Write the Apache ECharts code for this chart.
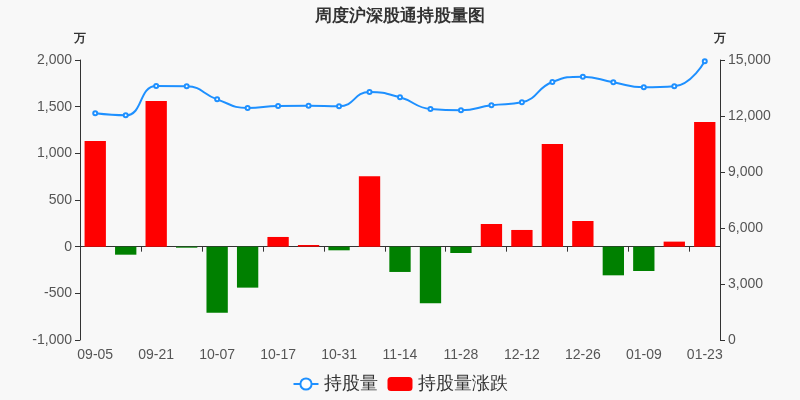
<!DOCTYPE html>
<html><head><meta charset="utf-8">
<script src="https://cdn.jsdelivr.net/npm/echarts@6/dist/echarts.min.js"></script>
<style>html,body{margin:0;padding:0;background:#f8f8f8}#c{width:800px;height:400px}</style>
</head><body><div id="c"></div>
<script>
const categories = ['09-05','09-13','09-21','09-28','10-07','10-12','10-17','10-24','10-31','11-07','11-14','11-21','11-28','12-05','12-12','12-19','12-26','01-02','01-09','01-16','01-23'];
const holdings = [12143, 12036, 13607, 13590, 12893, 12429, 12536, 12553, 12518, 13286, 13000, 12375, 12305, 12571, 12733, 13821, 14107, 13804, 13536, 13589, 14929];
const changes = [1132, -86, 1561, -11, -707, -439, 104, 18, -39, 754, -271, -607, -68, 243, 179, 1100, 275, -307, -261, 54, 1336];
const leftTicks = {min: -1000, max: 2000, interval: 500};
const rightTicks = {min: 0, max: 15000, interval: 3000};

const chart = echarts.init(document.getElementById('c'));
const axisCommon = {
  axisLine: {show: true, lineStyle: {color: '#333'}},
  axisTick: {show: true, lineStyle: {color: '#333'}},
  axisLabel: {color: '#555', fontSize: 14},
  splitLine: {show: false},
  nameTextStyle: {color: '#333', fontWeight: 'bold', fontSize: 12}
};
chart.setOption({
  backgroundColor: '#f8f8f8',
  title: {text: '周度沪深股通持股量图', left: 'center', top: 3,
    textStyle: {fontSize: 17, fontWeight: 'bold', color: '#333'}},
  legend: {bottom: 2, itemGap: 10, itemWidth: 25, itemHeight: 14,
    textStyle: {fontSize: 18, color: '#333'},
    data: [{name: '持股量'}, {name: '持股量涨跌', itemStyle: {color: '#ff0000'}}]},
  grid: {left: 80, right: 80, top: 60, bottom: 60},
  xAxis: {type: 'category', data: categories, boundaryGap: true,
    axisLine: {lineStyle: {color: '#333'}},
    axisTick: {show: true, lineStyle: {color: '#333'}},
    axisLabel: {color: '#555', fontSize: 14, interval: 1}},
  yAxis: [
    Object.assign({type: 'value', name: '万', position: 'left', nameGap: 15,
      min: leftTicks.min, max: leftTicks.max, interval: leftTicks.interval}, axisCommon),
    Object.assign({type: 'value', name: '万', position: 'right', nameGap: 15,
      min: rightTicks.min, max: rightTicks.max, interval: rightTicks.interval}, axisCommon)
  ],
  series: [
    {name: '持股量', type: 'line', yAxisIndex: 1, data: holdings, smooth: 0.5,
      symbol: 'emptyCircle', symbolSize: 4,
      lineStyle: {width: 2, color: '#1e90ff'}, itemStyle: {color: '#1e90ff'}},
    {name: '持股量涨跌', type: 'bar', yAxisIndex: 0, barWidth: '70%',
      data: changes.map(v => ({value: v, itemStyle: {color: v >= 0 ? '#ff0000' : '#008000'}}))}
  ]
});
</script></body></html>
